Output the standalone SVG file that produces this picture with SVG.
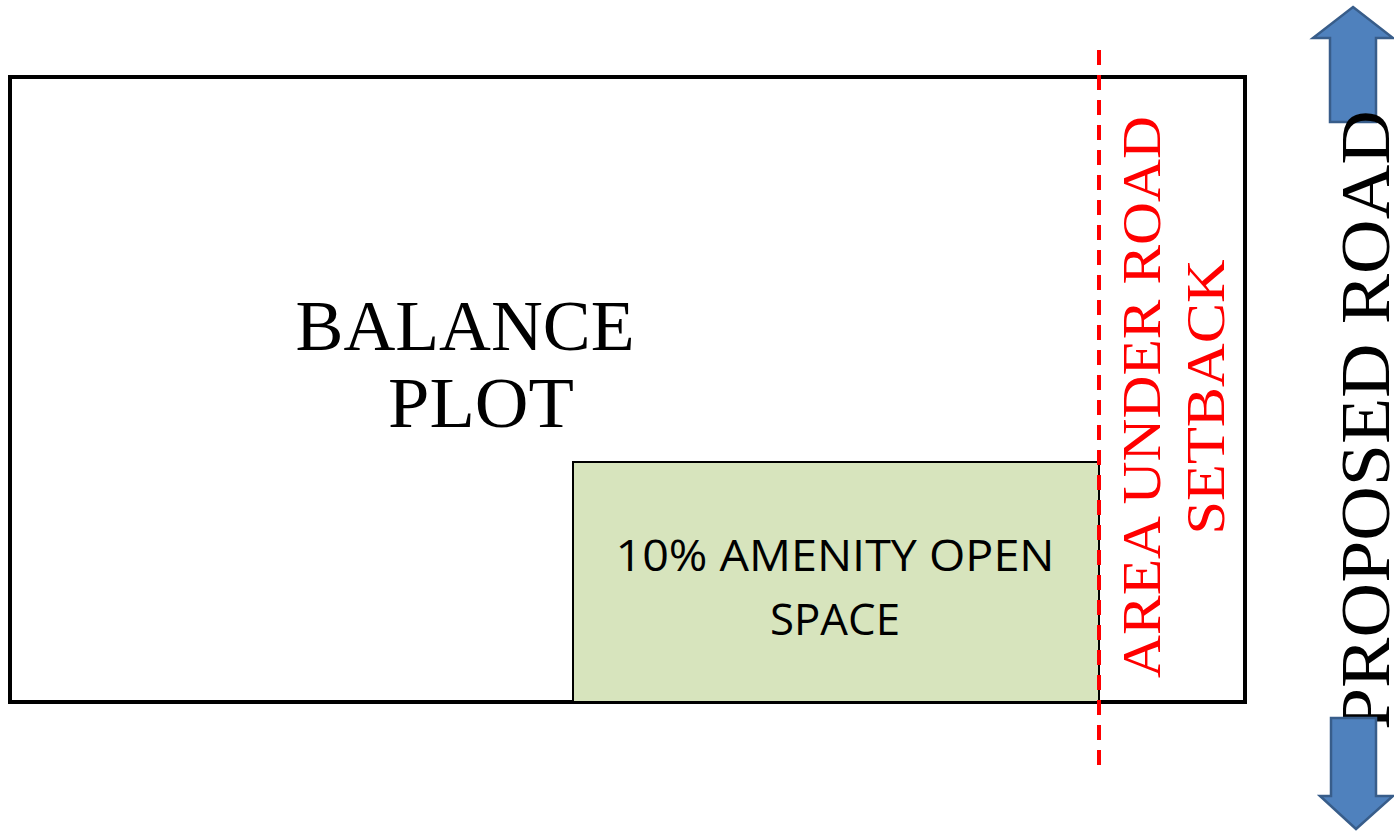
<svg xmlns="http://www.w3.org/2000/svg" width="1394" height="831" viewBox="0 0 1394 831">
<style>
.cp{font-family:"Liberation Serif","DejaVu Serif",serif;}
.cal{font-family:"Open Sans","Liberation Sans",sans-serif;}
.arrow{fill:#4F81BD;stroke:#385D8A;stroke-width:2.5;stroke-linejoin:miter;}
</style>
<rect width="1394" height="831" fill="#ffffff"/>
<g id="plot">
<rect x="10" y="77" width="1235" height="625" fill="#ffffff" stroke="#000" stroke-width="4"/>
<text class="cp" x="465" y="350" font-size="72" text-anchor="middle" textLength="339" lengthAdjust="spacingAndGlyphs">BALANCE</text>
<text class="cp" x="481" y="427" font-size="72" text-anchor="middle" textLength="186" lengthAdjust="spacingAndGlyphs">PLOT</text>
</g>
<g id="amenity">
<rect x="573" y="462" width="526" height="240" fill="#D7E4BD" stroke="#000" stroke-width="2"/>
<text class="cal" x="835" y="571" font-size="44" text-anchor="middle" textLength="439" lengthAdjust="spacingAndGlyphs">10% AMENITY OPEN</text>
<text class="cal" x="835" y="635" font-size="44" text-anchor="middle" textLength="130" lengthAdjust="spacingAndGlyphs">SPACE</text>
</g>
<g id="setback-line">
<line x1="1099" y1="50" x2="1099" y2="770" stroke="#FF0000" stroke-width="4" stroke-dasharray="15,10"/>
</g>
<g id="setback-label">
<text class="cp" transform="translate(1160,397) rotate(-90)" font-size="55" text-anchor="middle" textLength="562" lengthAdjust="spacingAndGlyphs" fill="#FF0000">AREA UNDER ROAD</text>
<text class="cp" transform="translate(1224,397) rotate(-90)" font-size="55" text-anchor="middle" textLength="275" lengthAdjust="spacingAndGlyphs" fill="#FF0000">SETBACK</text>
</g>
<g id="road">
<polygon class="arrow" points="1353,7 1393,38 1376,38 1376,122 1330,122 1330,38 1313,38"/>
<text class="cp" transform="translate(1389,420) rotate(-90)" font-size="70" text-anchor="middle" textLength="620" lengthAdjust="spacingAndGlyphs" fill="#000">PROPOSED ROAD</text>
<polygon class="arrow" points="1331,718 1376,718 1376,796 1393,796 1356,829 1320,796 1331,796"/>
</g>
</svg>
